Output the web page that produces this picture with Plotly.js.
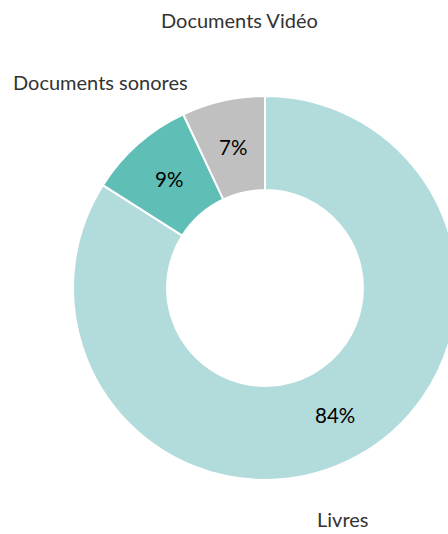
<!DOCTYPE html>
<html>
<head>
<meta charset="utf-8">
<script src="https://cdn.plot.ly/plotly-3.0.1.min.js"></script>
<style>
html,body{margin:0;padding:0;overflow:hidden;background:#fff;}
#chart{width:470px;height:534px;}
</style>
</head>
<body>
<div id="chart"></div>
<script>
const categories = ["Livres", "Documents sonores", "Documents Vidéo"];
const values = [84, 9, 7];
const colors = ["#b2dbdb", "#5fbeb5", "#c0c0c0"];

const W = 470, H = 534;
const HOLE = 0.51;
const dom = {x: [73 / W, 457 / W], y: [54 / H, 438 / H]};

const trace = {
  type: "pie",
  labels: categories,
  values: values,
  hole: HOLE,
  sort: false,
  direction: "clockwise",
  rotation: 0,
  textinfo: "none",
  marker: {colors: colors, line: {color: "#ffffff", width: 2}},
  domain: dom,
  hoverinfo: "label+percent",
  showlegend: false
};

// percentage labels centred in the ring at each slice's mid angle
const cx = (dom.x[0] + dom.x[1]) / 2 * W;
const cy = (1 - (dom.y[0] + dom.y[1]) / 2) * H;
const R = (dom.x[1] - dom.x[0]) * W / 2;
const rMid = R * (1 + HOLE) / 2;
const total = values.reduce((a, b) => a + b, 0);
let cum = 0;
const pctAnn = values.map((v) => {
  const mid = (cum + v / 2) / total * 2 * Math.PI;
  cum += v;
  const px = cx + rMid * Math.sin(mid);
  const py = cy - rMid * Math.cos(mid);
  return {
    text: Math.round(v / total * 100) + "%",
    xref: "paper", yref: "paper",
    x: px / W, y: 1 - py / H,
    xanchor: "center", yanchor: "middle",
    showarrow: false,
    font: {family: "Lato, sans-serif", size: 20.5, color: "#000000"}
  };
});

const labelPos = [[342, 519], [100, 82], [239, 20]];
const nameAnn = categories.map((c, i) => ({
  text: c,
  xref: "paper", yref: "paper",
  x: labelPos[i][0] / W, y: 1 - labelPos[i][1] / H,
  xanchor: "center", yanchor: "middle",
  showarrow: false,
  font: {family: "Lato, sans-serif", size: 20, color: "#333333"}
}));

Plotly.newPlot("chart", [trace], {
  width: W, height: H,
  margin: {l: 0, r: 0, t: 0, b: 0},
  paper_bgcolor: "#ffffff",
  font: {family: "Lato, sans-serif"},
  annotations: nameAnn.concat(pctAnn)
}, {displayModeBar: false, staticPlot: true});
</script>
</body>
</html>
